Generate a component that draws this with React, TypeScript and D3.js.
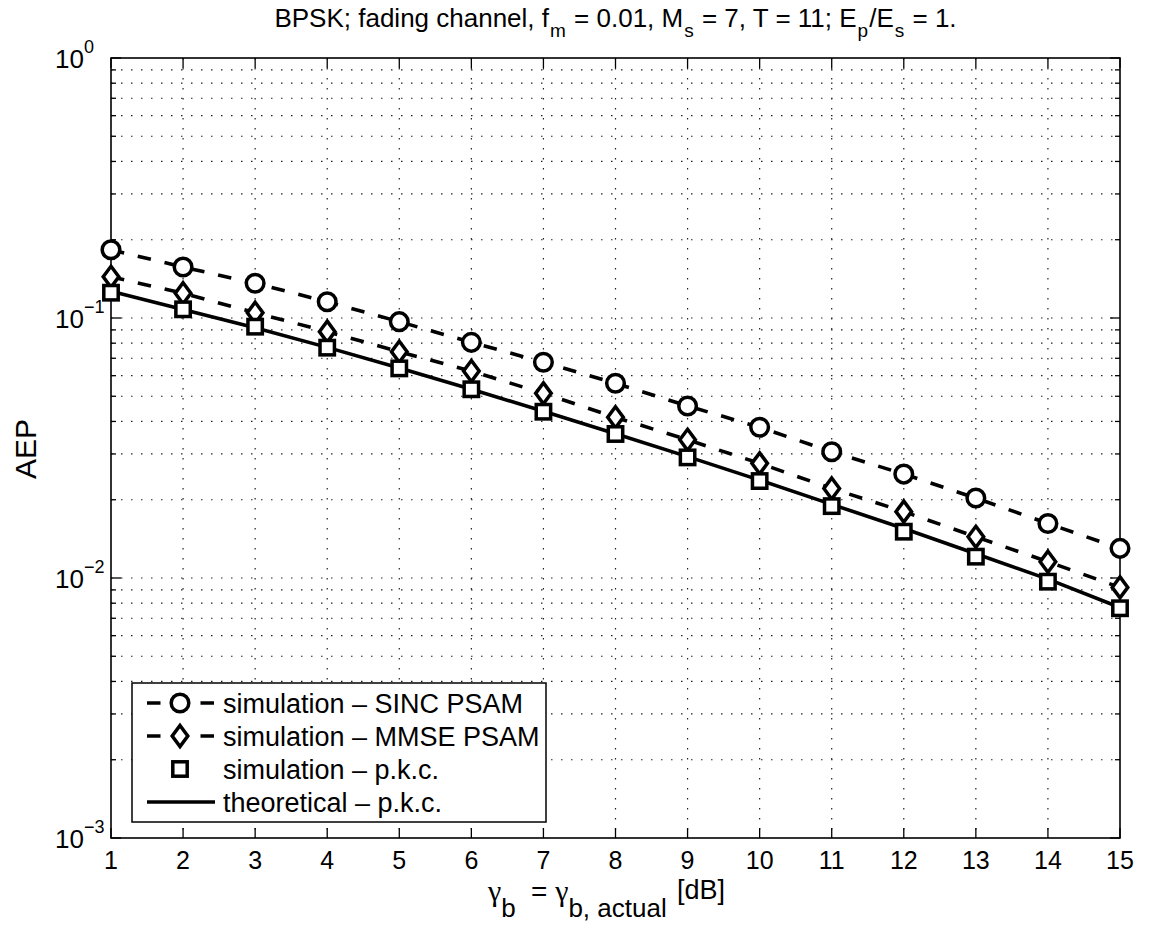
import React from "react";
import * as d3 from "d3";

const snrDb = [1, 2, 3, 4, 5, 6, 7, 8, 9, 10, 11, 12, 13, 14, 15];
const sincPsam = [0.183, 0.157, 0.136, 0.1155, 0.0968, 0.0806, 0.0676, 0.0561, 0.0459, 0.038, 0.0306, 0.0251, 0.0203, 0.0162, 0.013];
const mmsePsam = [0.144, 0.1245, 0.1048, 0.0886, 0.0742, 0.0625, 0.0513, 0.0415, 0.034, 0.0276, 0.0221, 0.018, 0.0144, 0.01155, 0.0092];
const simPkc = [0.1251, 0.108, 0.0926, 0.0769, 0.064, 0.0532, 0.0436, 0.0358, 0.0291, 0.0236, 0.0189, 0.01507, 0.01208, 0.00968, 0.00765];
const theoPkc = [0.1267, 0.1078, 0.0918, 0.0771, 0.0642, 0.0532, 0.0438, 0.0359, 0.0293, 0.0238, 0.0192, 0.0155, 0.0124, 0.0099, 0.0077];
const xTicks = [1, 2, 3, 4, 5, 6, 7, 8, 9, 10, 11, 12, 13, 14, 15];
const yDecades = [0, -1, -2, -3];
const legendLabels = [
  "simulation \u2013 SINC PSAM",
  "simulation \u2013 MMSE PSAM",
  "simulation \u2013 p.k.c.",
  "theoretical \u2013 p.k.c.",
];

const W = 1149, H = 928;
const L = 111, R = 1120, T = 58, B = 838;
const FONT = "'Liberation Sans', Arial, Helvetica, sans-serif";
const GREEK = "'Liberation Serif', 'DejaVu Serif', serif";
const DASH = "13.5,14";

export default function App() {
  const x = d3.scaleLinear().domain([1, 15]).range([L, R]);
  const y = d3.scaleLog().domain([1e-3, 1]).range([B, T]);
  const minor: number[] = [];
  for (let e = -3; e < 0; e++) for (let m = 1; m <= 9; m++) minor.push(m * Math.pow(10, e));
  minor.push(1);

  const line = d3
    .line<number>()
    .x((_, i) => x(snrDb[i]))
    .y((d) => y(d));

  const SW = 3.5;
  const circle = (cx: number, cy: number, k: string) => (
    <circle key={k} cx={cx} cy={cy} r={8.8} fill="white" stroke="black" strokeWidth={SW} />
  );
  const diamond = (cx: number, cy: number, k: string) => (
    <path key={k} d={`M${cx},${cy - 10.5}L${cx + 7.8},${cy}L${cx},${cy + 10.5}L${cx - 7.8},${cy}Z`} fill="white" stroke="black" strokeWidth={SW} strokeLinejoin="miter" />
  );
  const square = (cx: number, cy: number, k: string) => (
    <rect key={k} x={cx - 7.2} y={cy - 7.2} width={14.4} height={14.4} fill="white" stroke="black" strokeWidth={SW} />
  );

  const legY = [703, 736, 769, 802];

  return (
    <svg width={W} height={H} style={{ position: "absolute", left: 0, top: 0, background: "white" }} fontFamily={FONT}>
      <rect x={0} y={0} width={W} height={H} fill="white" />
      {/* grid */}
      <g stroke="#222" strokeWidth={1.2} strokeDasharray="1.5,8.5">
        {xTicks.slice(1, -1).map((t) => (
          <line key={"gx" + t} x1={x(t)} x2={x(t)} y1={T} y2={B} />
        ))}
        {minor.slice(1, -1).map((v, i) => (
          <line key={"gy" + i} x1={L} x2={R} y1={y(v)} y2={y(v)} />
        ))}
      </g>
      {/* ticks */}
      <g stroke="black" strokeWidth={1.3}>
        {xTicks.map((t) => (
          <g key={"tx" + t}>
            <line x1={x(t)} x2={x(t)} y1={B} y2={B - 10} />
            <line x1={x(t)} x2={x(t)} y1={T} y2={T + 10} />
          </g>
        ))}
        {minor.map((v, i) => {
          const isMajor = Math.abs(Math.log10(v) - Math.round(Math.log10(v))) < 1e-9;
          const len = isMajor ? 10 : 5;
          return (
            <g key={"ty" + i}>
              <line x1={L} x2={L + len} y1={y(v)} y2={y(v)} />
              <line x1={R} x2={R - len} y1={y(v)} y2={y(v)} />
            </g>
          );
        })}
      </g>
      {/* axes box */}
      <rect x={L} y={T} width={R - L} height={B - T} fill="none" stroke="black" strokeWidth={1.6} />
      {/* x tick labels */}
      <g fontSize={25} textAnchor="middle" fill="black">
        {xTicks.map((t) => (
          <text key={"lx" + t} x={x(t)} y={869}>
            {t}
          </text>
        ))}
      </g>
      {/* y tick labels */}
      <g fill="black">
        {yDecades.map((e) => (
          <g key={"ly" + e}>
            <text x={84} y={y(Math.pow(10, e)) + 10} fontSize={26} textAnchor="end">
              10
            </text>
            <text x={84} y={y(Math.pow(10, e)) - 5} fontSize={18} textAnchor="start">
              {e === 0 ? "0" : "\u2212" + Math.abs(e)}
            </text>
          </g>
        ))}
      </g>
      {/* lines */}
      <g fill="none" stroke="black" strokeWidth={3.6}>
        <path d={line(theoPkc) || ""} />
        <path d={line(sincPsam) || ""} strokeDasharray={DASH} />
        <path d={line(mmsePsam) || ""} strokeDasharray={DASH} />
      </g>
      {/* markers */}
      <g>
        {sincPsam.map((v, i) => circle(x(snrDb[i]), y(v), "c" + i))}
        {mmsePsam.map((v, i) => diamond(x(snrDb[i]), y(v), "d" + i))}
        {simPkc.map((v, i) => square(x(snrDb[i]), y(v), "s" + i))}
      </g>
      {/* legend */}
      <g>
        <rect x={132} y={683} width={414} height={139} fill="white" stroke="black" strokeWidth={1.5} />
        <line x1={147} x2={215} y1={legY[0]} y2={legY[0]} stroke="black" strokeWidth={3.6} strokeDasharray="13.5,40" />
        {circle(180, legY[0], "lc")}
        <line x1={147} x2={215} y1={legY[1]} y2={legY[1]} stroke="black" strokeWidth={3.6} strokeDasharray="13.5,40" />
        {diamond(180, legY[1], "ld")}
        {square(180, legY[2], "ls")}
        <line x1={147} x2={215} y1={legY[3]} y2={legY[3]} stroke="black" strokeWidth={3.6} />
        {legendLabels.map((s, i) => (
          <text key={"lt" + i} x={223} y={legY[i] + 10} fontSize={27} fill="black">
            {s}
          </text>
        ))}
      </g>
      {/* title */}
      <text x={615.5} y={27} fontSize={26} fill="black" textAnchor="middle">
        <tspan>BPSK; fading channel, f</tspan>
        <tspan fontSize={19} dy={10} dx={1}>m</tspan>
        <tspan dy={-10} dx={1}> = 0.01, M</tspan>
        <tspan fontSize={19} dy={10} dx={1}>s</tspan>
        <tspan dy={-10} dx={1}> = 7, T = 11; E</tspan>
        <tspan fontSize={19} dy={10} dx={1}>p</tspan>
        <tspan dy={-10} dx={1}>/E</tspan>
        <tspan fontSize={19} dy={10} dx={1}>s</tspan>
        <tspan dy={-10} dx={1}> = 1.</tspan>
      </text>
      {/* y label */}
      <text transform="translate(36,449) rotate(-90)" fontSize={30} textAnchor="middle" fill="black">
        AEP
      </text>
      {/* x label */}
      <text x={488} y={901} fontSize={28} fill="black">
        <tspan fontFamily={GREEK} fontSize={30}>γ</tspan>
        <tspan fontSize={26} dy={16}>b</tspan>
        <tspan x={531} dy={-16}>= </tspan>
        <tspan fontFamily={GREEK} fontSize={30}>γ</tspan>
        <tspan fontSize={26} dy={16}>b, actual</tspan>
        <tspan x={677} dy={-18} fontSize={27}>[dB]</tspan>
      </text>
    </svg>
  );
}
